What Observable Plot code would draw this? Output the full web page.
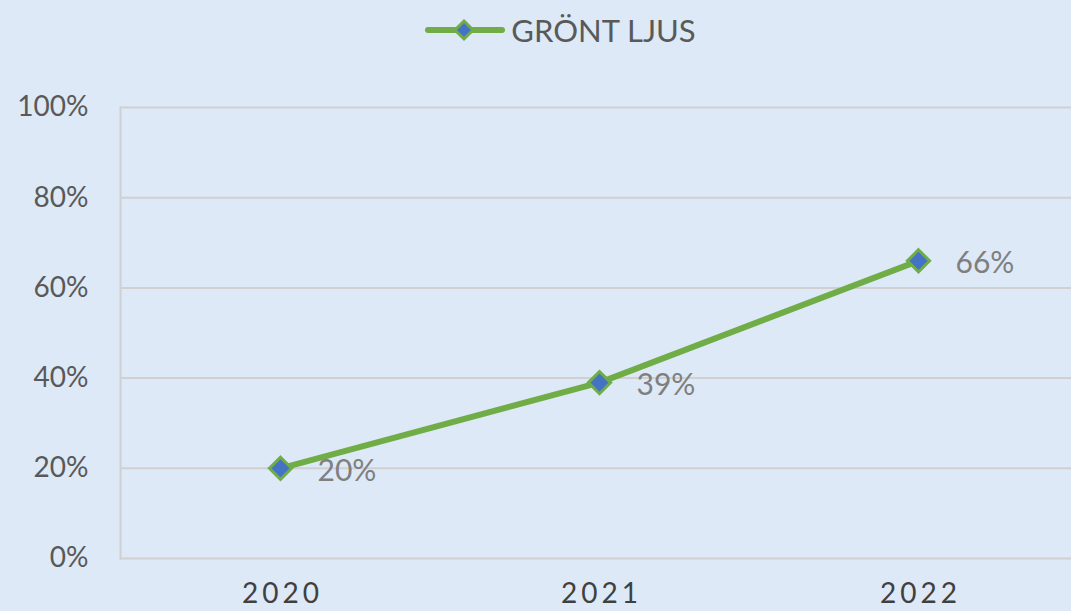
<!DOCTYPE html>
<html>
<head>
<meta charset="utf-8">
<script src="https://cdn.jsdelivr.net/npm/d3@7"></script>
<script src="https://cdn.jsdelivr.net/npm/@observablehq/plot@0.6"></script>
<style>
  html, body { margin: 0; padding: 0; background: #dde9f6; }
  body { width: 1071px; height: 611px; overflow: hidden; font-family: Lato, "Noto Sans", sans-serif; }
  #legend { height: 60px; display: flex; align-items: center; justify-content: center; color: #595959; font-size: 31px; padding-left: 50px; box-sizing: border-box; }
  #legend svg { margin-right: 6px; }
</style>
</head>
<body>
<div id="legend"></div>
<div id="chart"></div>
<script>
const years = ["2020", "2021", "2022"];
const values = [20, 39, 66];
const seriesName = "GRÖNT LJUS";
const yTicks = [0, 20, 40, 60, 80, 100];

const green = "#70ad47";
const blue = "#4472c4";

const data = years.map((y, i) => ({year: y, value: values[i]}));

// Legend
const leg = document.getElementById("legend");
leg.innerHTML = `<svg width="80" height="24"><line x1="3" y1="12" x2="77" y2="12" stroke="${green}" stroke-width="6" stroke-linecap="round"/><path d="M39,3 L48,12 L39,21 L30,12 Z" fill="${blue}" stroke="${green}" stroke-width="3"/></svg><span>${seriesName}</span>`;

const chart = Plot.plot({
  width: 1071,
  height: 551,
  marginLeft: 120,
  marginRight: 0,
  marginTop: 47,
  marginBottom: 53,
  style: {background: "transparent", fontFamily: "Lato, 'Noto Sans', sans-serif"},
  x: {type: "point", domain: years, range: [120, 1077], label: null},
  y: {domain: [0, 100], label: null},
  marks: [
    Plot.ruleY(yTicks, {stroke: "#d0d0d0", strokeWidth: 2}),
    Plot.frame({anchor: "left", stroke: "#d0d0d0", strokeWidth: 2}),
    Plot.axisY({ticks: yTicks, tickSize: 0, tickPadding: 32, tickFormat: d => d + "%", fontSize: 28, fill: "#595959", stroke: null}),
    Plot.axisX({tickSize: 0, tickPadding: 25, fontSize: 28, fill: "#404040", dx: 2}),
    Plot.line(data, {x: "year", y: "value", stroke: green, strokeWidth: 6}),
    Plot.dot(data, {x: "year", y: "value", symbol: "diamond2", r: 10, fill: blue, stroke: green, strokeWidth: 3}),
    Plot.text(data, {x: "year", y: "value", text: d => d.value + "%", dx: 37, dy: 3, textAnchor: "start", fontSize: 30, fill: "#7f7f7f"})
  ]
});
d3.select(chart).selectAll('[aria-label="x-axis tick label"] text').attr("letter-spacing", "4px");
document.getElementById("chart").appendChild(chart);
</script>
</body>
</html>
